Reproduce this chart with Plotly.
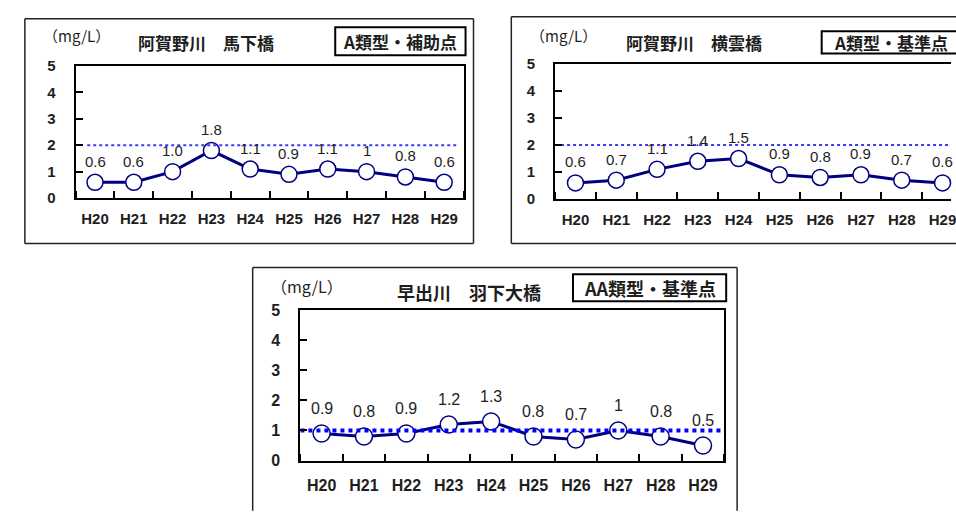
import plotly.graph_objects as go

# ---- data -------------------------------------------------------------
years = ["H20", "H21", "H22", "H23", "H24", "H25", "H26", "H27", "H28", "H29"]

magashi_values = [0.6, 0.6, 1.0, 1.8, 1.1, 0.9, 1.1, 1.0, 0.8, 0.6]
magashi_labels = ["0.6", "0.6", "1.0", "1.8", "1.1", "0.9", "1.1", "1", "0.8", "0.6"]
magashi_standard = 2

yokogumo_values = [0.6, 0.7, 1.1, 1.4, 1.5, 0.9, 0.8, 0.9, 0.7, 0.6]
yokogumo_labels = ["0.6", "0.7", "1.1", "1.4", "1.5", "0.9", "0.8", "0.9", "0.7", "0.6"]
yokogumo_standard = 2

hage_values = [0.9, 0.8, 0.9, 1.2, 1.3, 0.8, 0.7, 1.0, 0.8, 0.5]
hage_labels = ["0.9", "0.8", "0.9", "1.2", "1.3", "0.8", "0.7", "1", "0.8", "0.5"]
hage_standard = 1

y_ticks = [0, 1, 2, 3, 4, 5]

titles = ["阿賀野川　馬下橋", "阿賀野川　横雲橋", "早出川　羽下大橋"]
classes = ["A類型・補助点", "A類型・基準点", "AA類型・基準点"]
unit = "（mg/L）"

# ---- layout helpers (pixel -> paper) -----------------------------------
W, H = 956, 513


def px(x):
    return x / W


def py(y):
    return 1 - y / H


LATIN = "Liberation Sans, Arial, sans-serif"
CJK = "Noto Sans CJK JP, sans-serif"
TEXT = "#1e1e1e"
NAVY = "#000080"

panels = [
    dict(values=magashi_values, labels=magashi_labels, std=magashi_standard,
         title=titles[0], cls=classes[0],
         plot=(76, 466, 59, 196), xmax=9.5, mirror_y=True, std_span=(-0.2, 9.35),
         outer=[(25, 10, 476, 10), (25, 243, 476, 243), (25, 10, 25, 243), (476, 10, 476, 243)],
         title_pos=(207, 35), unit_pos=(77, 27), box=(337, 19, 468, 48),
         cls_pos=(402.5, 33.5), cls_anchor="center", fs=15, tfs=17,
         msize=16, lshift=21, xstand=6, ystand=15,
         std_color="#3a3aff", std_width=2),
    dict(values=yokogumo_values, labels=yokogumo_labels, std=yokogumo_standard,
         title=titles[1], cls=classes[1],
         plot=(558, 956, 57, 197), xmax=-0.5 + (956 - 558) / 41.0, mirror_y=False,
         std_span=(-0.5, 9.5),
         outer=[(514, 8, 970, 8), (514, 243, 970, 243), (514, 8, 514, 243)],
         title_pos=(698, 35), unit_pos=(566, 27), box=(826, 23, 965, 46),
         cls_pos=(836, 34.5), cls_anchor="left", fs=15, tfs=17,
         msize=16, lshift=21, xstand=6, ystand=15,
         std_color="#3a3aff", std_width=2),
    dict(values=hage_values, labels=hage_labels, std=hage_standard,
         title=titles[2], cls=classes[2],
         plot=(302, 728, 312, 468), xmax=9.5, mirror_y=True, std_span=(-0.5, 9.5),
         outer=[(254, 268, 741, 268), (254, 268, 254, 520), (741, 268, 741, 520)],
         title_pos=(471, 293), unit_pos=(309, 287), box=(576, 275, 730, 303),
         cls_pos=(653, 289.5), cls_anchor="center", fs=16, tfs=18,
         msize=17, lshift=25, xstand=9, ystand=15,
         std_color="#0000ff", std_width=4),
]

fig = go.Figure()
shapes, annotations = [], []

for i, p in enumerate(panels, start=1):
    xa = "x" if i == 1 else f"x{i}"
    ya = "y" if i == 1 else f"y{i}"
    xs = list(range(len(years)))

    # measured values: navy line with hollow circular markers
    fig.add_trace(go.Scatter(
        x=xs, y=p["values"], xaxis=xa, yaxis=ya,
        mode="lines+markers",
        line=dict(color=NAVY, width=3),
        marker=dict(size=p["msize"], color="white", line=dict(color=NAVY, width=1.5)),
        showlegend=False, hoverinfo="skip", cliponaxis=False,
    ))
    # environmental standard: dotted blue line
    fig.add_trace(go.Scatter(
        x=list(p["std_span"]), y=[p["std"], p["std"]], xaxis=xa, yaxis=ya,
        mode="lines", line=dict(color=p["std_color"], width=p["std_width"], dash="dot"),
        showlegend=False, hoverinfo="skip",
    ))
    # value labels above each point
    for xv, yv, lab in zip(xs, p["values"], p["labels"]):
        annotations.append(dict(xref=xa, yref=ya, x=xv, y=yv, text=lab,
                                showarrow=False, yshift=p["lshift"],
                                xanchor="center", yanchor="middle",
                                font=dict(family=LATIN, size=p["fs"], color=TEXT)))

    x0, x1, y0, y1 = p["plot"]
    xkey = "xaxis" if i == 1 else f"xaxis{i}"
    ykey = "yaxis" if i == 1 else f"yaxis{i}"
    tickfont = dict(family=LATIN, size=p["fs"], color=TEXT, weight="bold")
    fig.update_layout({
        xkey: dict(
            domain=[px(x0), px(x1)], anchor=ya, range=[-0.5, p["xmax"]],
            tickvals=xs, ticktext=years, ticks="", showgrid=False, zeroline=False,
            showline=True, linecolor="black", linewidth=2, mirror=True,
            tickfont=tickfont,
            ticklabelstandoff=p["xstand"], ticklabeloverflow="allow",
            minor=dict(tick0=0.5, dtick=1, ticks="inside", ticklen=7,
                       tickwidth=2, tickcolor="black", showgrid=False),
            fixedrange=True,
        ),
        ykey: dict(
            domain=[py(y1), py(y0)], anchor=xa, range=[0, 5],
            tickvals=y_ticks, ticks="inside", ticklen=7, tickwidth=2,
            tickcolor="black", showgrid=False, zeroline=False,
            showline=True, linecolor="black", linewidth=2, mirror=p["mirror_y"],
            tickfont=tickfont,
            ticklabelstandoff=p["ystand"], fixedrange=True,
        ),
    })

    # outer frame of each chart
    for (ax0, ay0, ax1, ay1) in p["outer"]:
        shapes.append(dict(type="line", xref="paper", yref="paper",
                           x0=px(ax0), y0=py(ay0), x1=px(ax1), y1=py(ay1),
                           line=dict(color="#222222", width=1.5)))
    # boxed water-class label
    bx0, by0, bx1, by1 = p["box"]
    shapes.append(dict(type="rect", xref="paper", yref="paper",
                       x0=px(bx0), y0=py(by1), x1=px(bx1), y1=py(by0),
                       line=dict(color="black", width=2), fillcolor="white"))
    annotations.append(dict(xref="paper", yref="paper",
                            x=px(p["cls_pos"][0]), y=py(p["cls_pos"][1]),
                            text=f"<b>{p['cls']}</b>", showarrow=False,
                            xanchor=p["cls_anchor"], yanchor="middle",
                            font=dict(family=CJK, size=p["tfs"], color=TEXT)))
    annotations.append(dict(xref="paper", yref="paper",
                            x=px(p["title_pos"][0]), y=py(p["title_pos"][1]),
                            text=f"<b>{p['title']}</b>", showarrow=False,
                            xanchor="center", yanchor="middle",
                            font=dict(family=CJK, size=p["tfs"], color=TEXT)))
    annotations.append(dict(xref="paper", yref="paper",
                            x=px(p["unit_pos"][0]), y=py(p["unit_pos"][1]),
                            text=unit, showarrow=False,
                            xanchor="center", yanchor="middle",
                            font=dict(family=CJK, size=p["fs"], color=TEXT)))

fig.update_layout(
    width=W, height=H, margin=dict(l=0, r=0, t=0, b=0),
    paper_bgcolor="white", plot_bgcolor="white",
    shapes=shapes, annotations=annotations, showlegend=False,
)

fig.write_html("out.html", config={"displayModeBar": False})
